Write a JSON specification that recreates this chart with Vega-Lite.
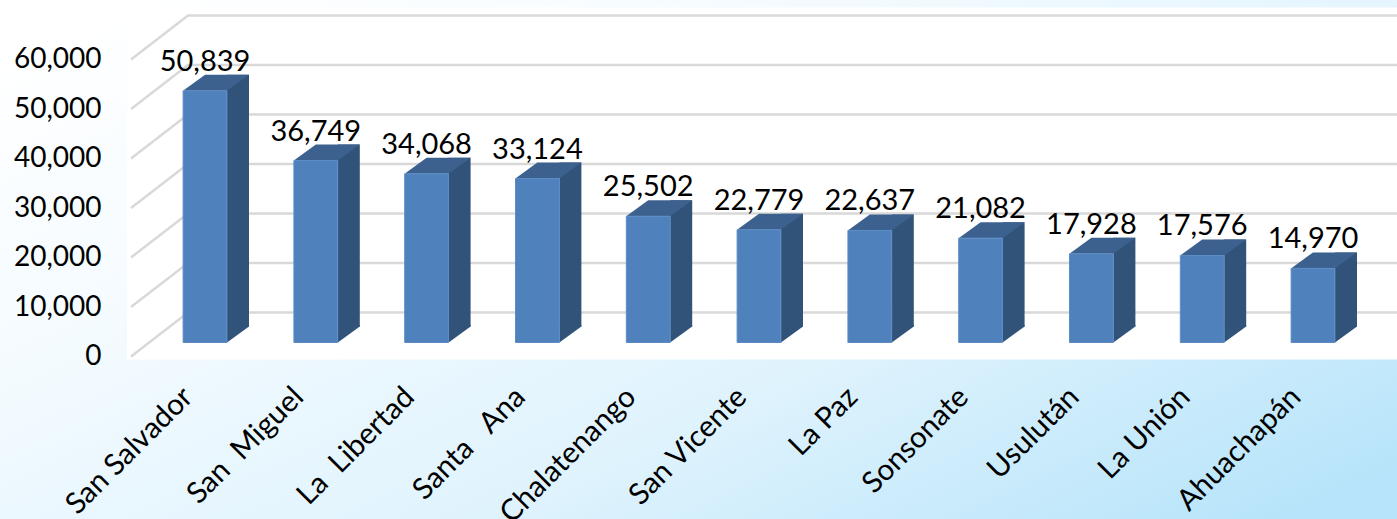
{
"$schema":"https://vega.github.io/schema/vega-lite/v6.json",
"width":1397,"height":519,"autosize":"none","padding":0,"background":"white",
"view":{"stroke":null,"fill":{"gradient":"linear","x1":0,"y1":0.1,"x2":1,"y2":0.9,"stops":[{"offset":0,"color":"#ffffff"},{"offset":0.3,"color":"#f4fbff"},{"offset":0.65,"color":"#dff3fd"},{"offset":1,"color":"#b7e4fa"}]}},
"config":{"font":"Lato"},
"datasets":{
"bars":[{"d":"San Salvador","v":50839},{"d":"San\u00a0\u00a0Miguel","v":36749},{"d":"La\u00a0\u00a0Libertad","v":34068},{"d":"Santa\u00a0\u00a0\u00a0Ana","v":33124},{"d":"Chalatenango","v":25502},{"d":"San Vicente","v":22779},{"d":"La Paz","v":22637},{"d":"Sonsonate","v":21082},{"d":"Usulután","v":17928},{"d":"La Unión","v":17576},{"d":"Ahuachapán","v":14970}],
"ticks":[{"v":0},{"v":10000},{"v":20000},{"v":30000},{"v":40000},{"v":50000},{"v":60000}],
"origin":[{"v":0}]},
"data":{"name":"bars"},
"encoding":{
"x":{"field":"d","type":"nominal","title":null,"scale":{"type":"band","domain":["San Salvador","San\u00a0\u00a0Miguel","La\u00a0\u00a0Libertad","Santa\u00a0\u00a0\u00a0Ana","Chalatenango","San Vicente","La Paz","Sonsonate","Usulután","La Unión","Ahuachapán"],"range":[149.6,1368.4],"paddingInner":0.605,"paddingOuter":0.3025},"axis":{"orient":"bottom","offset":-160,"domain":false,"ticks":false,"labelAngle":-45,"labelAlign":"right","labelBaseline":"middle","labelFontSize":29.5,"labelColor":"#000000","labelPadding":33,"labelOffset":-17,"labelOverlap":false,"labelFont":"Lato","labelLimit":0}},
"y":{"field":"v","type":"quantitative","title":null,"scale":{"domain":[0,60000],"range":[342.5,45.5],"nice":false},"axis":{"orient":"left","offset":-101,"domain":false,"ticks":false,"grid":false,"values":[0,10000,20000,30000,40000,50000,60000],"labelExpr":"format(datum.value, ',')","labelFontSize":28,"labelColor":"#000000","labelPadding":0,"labelOffset":14,"labelOverlap":false,"labelFont":"Lato"}}
},
"layer":[
{"data":{"name":"origin"},"mark":{"type":"point","filled":true,"opacity":1,"size":400,"fill":"white","stroke":null,"shape":"M-7.8,-33.5L119.2,-33.5L119.2,1.7L-7.8,1.7Z"},"encoding":{"x":{"datum":"San Salvador"}}},
{"data":{"name":"ticks"},"mark":{"type":"point","filled":false,"opacity":1,"size":400,"stroke":"#d9d9d9","strokeWidth":2.5,"shape":"M-7.4,1.4L-1.7,-3L119.2,-3"},"encoding":{"x":{"datum":"San Salvador"}}},
{"mark":{"type":"bar","size":22,"xOffset":33,"yOffset":-16,"y2Offset":-16,"color":"#325379"}},
{"mark":{"type":"point","filled":true,"opacity":1,"size":400,"fill":"#325379","stroke":null,"shape":"M2.2,0L2.2,-1.75L4.4,-1.75L4.4,-1.6Z"},"encoding":{"y":{"datum":0}}},
{"mark":{"type":"point","filled":true,"opacity":1,"size":400,"fill":"#3c618e","stroke":null,"shape":"M-2.2,0L2.2,0L4.4,-1.6L0,-1.6Z"}},
{"mark":{"type":"bar","color":"#4f81bd","stroke":"#5b8cc6","strokeWidth":1}},
{"mark":{"type":"text","baseline":"alphabetic","align":"center","dy":-20,"fontSize":29,"color":"#000000","font":"Lato"},"encoding":{"text":{"field":"v","type":"quantitative","format":","}}}
]
}
